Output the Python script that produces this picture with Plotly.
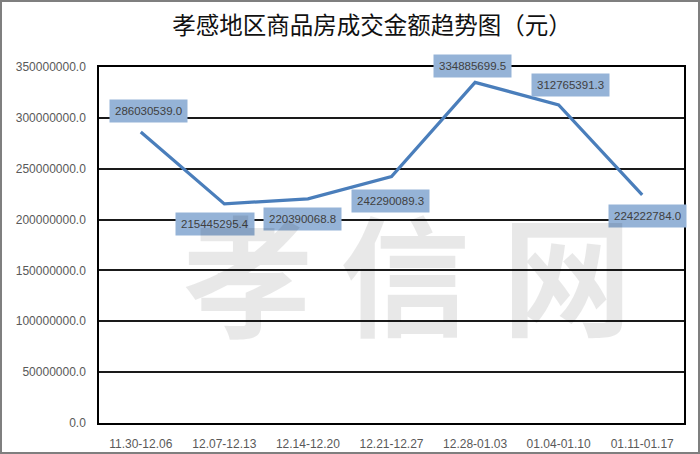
import plotly.graph_objects as go

# Weekly periods and transaction amounts (yuan)
periods = ["11.30-12.06", "12.07-12.13", "12.14-12.20", "12.21-12.27",
           "12.28-01.03", "01.04-01.10", "01.11-01.17"]
amounts = [286030539.0, 215445295.4, 220390068.8, 242290089.3,
           334885699.5, 312765391.3, 224222784.0]
y_ticks = [0, 50000000, 100000000, 150000000, 200000000,
           250000000, 300000000, 350000000]

# pixel offsets of each value label from its point (dx right, dy up)
label_offsets = [(8, 21), (-9, -20), (-5, -20), (-1, -24),
                 (-3, 16), (12, 20), (5, -21)]

W, H = 700, 454
ML, MR, MT, MB = 99, 16, 67, 31
PW, PH = W - ML - MR, H - MT - MB

fig = go.Figure()
fig.add_trace(go.Scatter(
    x=list(range(len(periods))), y=amounts, mode="lines",
    line=dict(color="#4a7ebb", width=3.2), hoverinfo="skip",
    cliponaxis=False,
))

annotations = []
# value labels
for i, (v, (dx, dy)) in enumerate(zip(amounts, label_offsets)):
    annotations.append(dict(
        text=f"{v:.1f}", x=i, y=v, xref="x", yref="y",
        xshift=dx, yshift=dy, showarrow=False,
        bgcolor="#95b3d7", borderpad=5,
        font=dict(family="Liberation Sans", size=11.5, color="#404040"),
    ))

# translucent site watermark laid over the plot
for ch, cx in zip("孝信网", [248, 405, 567]):
    annotations.append(dict(
        text=ch, xref="paper", yref="paper",
        x=(cx - ML) / PW, y=1 - (269 - MT) / PH,
        xanchor="center", yanchor="middle", showarrow=False,
        font=dict(family="Noto Sans CJK SC", size=130,
                  color="rgba(0,0,0,0.09)", weight="bold"),
    ))

fig.update_layout(
    width=W, height=H,
    margin=dict(l=ML, r=MR, t=MT, b=MB, pad=0, autoexpand=False),
    paper_bgcolor="white", plot_bgcolor="rgba(0,0,0,0)",
    showlegend=False,
    title=dict(text="孝感地区商品房成交金额趋势图（元）",
               x=372 / W, xanchor="center", y=1 - 26 / H, yref="container",
               yanchor="middle",
               font=dict(family="Noto Sans CJK SC", size=23.5, color="#111111")),
    xaxis=dict(
        range=[-0.5, len(periods) - 0.5], automargin=False,
        tickmode="array", tickvals=list(range(len(periods))),
        ticktext=periods, ticks="", showgrid=False, zeroline=False,
        showline=True, linecolor="black", linewidth=1.5, mirror=True,
        tickfont=dict(family="Liberation Sans", size=12, color="#595959"),
        ticklabelstandoff=9,
    ),
    yaxis=dict(
        range=[0, 350000000], tickmode="array", tickvals=y_ticks,
        automargin=False,
        ticktext=[f"{t:.1f}" for t in y_ticks], ticks="",
        showgrid=True, gridcolor="#1a1a1a", gridwidth=1.5, zeroline=False,
        showline=True, linecolor="black", linewidth=1.5, mirror=True,
        tickfont=dict(family="Liberation Sans", size=12, color="#595959"),
        ticklabelstandoff=9,
    ),
    annotations=annotations,
    shapes=[dict(
        type="rect", xref="paper", yref="paper",
        x0=(-ML + 1) / PW, x1=(PW + MR - 1) / PW,
        y0=(-MB + 1) / PH, y1=(PH + MT - 1) / PH,
        line=dict(color="#7f7f7f", width=2), layer="below",
    )],
)

fig.write_html("out.html")
